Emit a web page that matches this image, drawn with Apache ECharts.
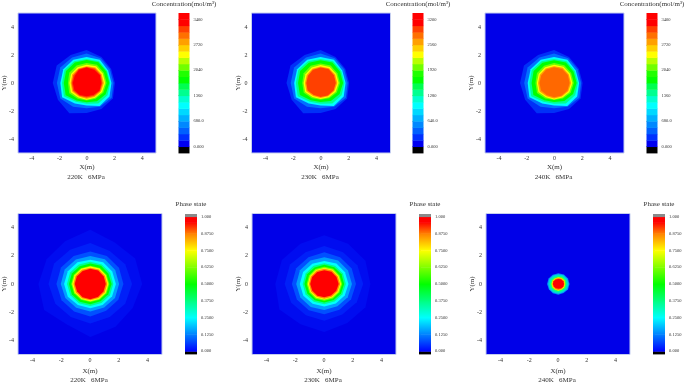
<!DOCTYPE html>
<html><head><meta charset="utf-8">
<style>html,body{margin:0;padding:0;background:#fff}#c{width:685px;height:385px;filter:blur(0.7px)}</style>
<script src="https://cdn.jsdelivr.net/npm/echarts@6/dist/echarts.min.js"></script>
</head><body><div id="c"></div>
<script>
// contour rows: [colour, r at 0deg, 30deg, ... 330deg] in metres
const conc220K = [
 ['#0030f8',2.05,2.05,2.15,2.35,2.30,2.50,2.45,2.40,2.50,2.15,2.15,2.20],
 ['#0070ff',1.95,1.95,2.05,2.10,2.10,2.20,2.15,2.20,1.95,1.80,1.95,2.10],
 ['#00ffff',1.80,1.80,1.92,1.85,1.92,1.95,1.90,2.05,1.70,1.60,1.90,1.92],
 ['#00ff90',1.72,1.72,1.80,1.72,1.80,1.85,1.78,1.90,1.55,1.48,1.70,1.75],
 ['#00ff00',1.65,1.65,1.72,1.65,1.70,1.72,1.65,1.75,1.45,1.38,1.50,1.60],
 ['#70ff00',1.45,1.45,1.50,1.42,1.45,1.45,1.35,1.45,1.30,1.25,1.30,1.40],
 ['#ffff00',1.35,1.35,1.38,1.30,1.30,1.30,1.25,1.32,1.20,1.20,1.22,1.30],
 ['#ffa000',1.25,1.25,1.28,1.20,1.20,1.20,1.15,1.20,1.12,1.12,1.15,1.20],
 ['#ff4000',1.15,1.18,1.20,1.15,1.15,1.10,1.08,1.12,1.05,1.03,1.07,1.13],
 ['#ff0000',1.07,1.12,1.10,1.10,1.10,1.00,1.00,1.02,1.00,0.95,1.00,1.08]
];
const conc230K = [
 ['#0030f8',2.05,2.05,2.15,2.35,2.30,2.50,2.45,2.40,2.50,2.15,2.15,2.20],
 ['#0070ff',1.95,1.95,2.05,2.10,2.10,2.20,2.15,2.20,1.95,1.80,1.95,2.10],
 ['#00ffff',1.80,1.80,1.92,1.85,1.92,1.95,1.90,2.05,1.70,1.60,1.90,1.92],
 ['#00ff90',1.72,1.72,1.80,1.72,1.80,1.85,1.78,1.90,1.55,1.48,1.70,1.75],
 ['#00ff00',1.62,1.62,1.70,1.62,1.68,1.70,1.62,1.72,1.42,1.35,1.48,1.58],
 ['#70ff00',1.40,1.40,1.45,1.40,1.42,1.40,1.32,1.40,1.25,1.20,1.25,1.35],
 ['#ffff00',1.30,1.30,1.32,1.28,1.28,1.25,1.22,1.28,1.15,1.15,1.18,1.25],
 ['#ffa000',1.20,1.20,1.22,1.18,1.18,1.15,1.12,1.18,1.08,1.07,1.10,1.15],
 ['#ff4000',1.10,1.12,1.15,1.10,1.10,1.05,1.03,1.08,1.00,1.00,1.03,1.08]
];
const conc240K = [
 ['#0030f8',2.05,2.05,2.15,2.35,2.30,2.50,2.45,2.40,2.50,2.15,2.15,2.20],
 ['#0070ff',1.95,1.95,2.05,2.10,2.10,2.20,2.15,2.20,1.95,1.80,1.95,2.10],
 ['#00ffff',1.80,1.80,1.92,1.85,1.92,1.95,1.90,2.05,1.70,1.60,1.90,1.92],
 ['#00ff90',1.72,1.72,1.80,1.72,1.80,1.85,1.78,1.90,1.55,1.48,1.70,1.75],
 ['#00ff00',1.62,1.62,1.70,1.62,1.68,1.70,1.62,1.72,1.42,1.35,1.48,1.58],
 ['#70ff00',1.42,1.42,1.47,1.42,1.42,1.42,1.34,1.42,1.27,1.22,1.27,1.38],
 ['#ffff00',1.32,1.32,1.35,1.30,1.30,1.28,1.24,1.30,1.18,1.17,1.20,1.27],
 ['#ffa000',1.22,1.22,1.25,1.20,1.20,1.18,1.15,1.20,1.10,1.10,1.12,1.18],
 ['#ff6800',1.12,1.14,1.16,1.12,1.12,1.07,1.05,1.08,1.02,1.02,1.05,1.10]
];
const phase220K = [
 ['#000cf0',3.60,3.60,3.40,3.85,3.50,3.50,3.60,3.70,3.30,3.75,3.50,3.40],
 ['#0020f8',2.90,2.80,2.70,2.90,2.80,2.90,2.90,2.80,2.70,2.80,2.70,2.80],
 ['#0050ff',2.30,2.30,2.30,2.30,2.30,2.35,2.35,2.30,2.25,2.30,2.20,2.25],
 ['#00a0ff',2.00,2.00,2.02,1.98,2.00,2.05,2.05,2.00,1.95,1.95,1.92,1.98],
 ['#00ffff',1.78,1.76,1.78,1.72,1.78,1.80,1.82,1.80,1.72,1.72,1.72,1.75],
 ['#00ff90',1.60,1.60,1.60,1.58,1.60,1.62,1.62,1.60,1.58,1.56,1.56,1.58],
 ['#00ff00',1.48,1.46,1.50,1.46,1.46,1.48,1.48,1.48,1.45,1.44,1.42,1.45],
 ['#80ff00',1.32,1.30,1.32,1.30,1.30,1.32,1.32,1.30,1.30,1.28,1.28,1.30],
 ['#ffff00',1.25,1.24,1.26,1.24,1.24,1.25,1.25,1.24,1.22,1.22,1.22,1.24],
 ['#ff9000',1.18,1.17,1.18,1.16,1.16,1.18,1.17,1.16,1.16,1.16,1.15,1.16],
 ['#ff0000',1.08,1.08,1.10,1.08,1.06,1.08,1.08,1.06,1.08,1.08,1.06,1.06]
];
const phase230K = [
 ['#000cf0',3.20,3.30,3.30,3.45,3.30,3.40,3.40,3.60,3.30,3.40,3.20,3.30],
 ['#0020f8',2.70,2.65,2.60,2.70,2.60,2.75,2.75,2.65,2.55,2.60,2.50,2.60],
 ['#0050ff',2.20,2.20,2.20,2.25,2.20,2.25,2.25,2.20,2.15,2.15,2.10,2.15],
 ['#00a0ff',1.92,1.90,1.92,1.90,1.92,1.95,1.95,1.92,1.88,1.85,1.82,1.88],
 ['#00ffff',1.68,1.66,1.68,1.64,1.66,1.70,1.70,1.68,1.62,1.60,1.60,1.64],
 ['#00ff90',1.50,1.50,1.50,1.48,1.50,1.50,1.50,1.50,1.46,1.44,1.44,1.46],
 ['#00ff00',1.38,1.38,1.38,1.36,1.36,1.38,1.38,1.36,1.34,1.32,1.32,1.34],
 ['#80ff00',1.24,1.22,1.24,1.22,1.22,1.22,1.22,1.20,1.20,1.18,1.18,1.20],
 ['#ffff00',1.16,1.15,1.16,1.14,1.14,1.14,1.14,1.12,1.12,1.10,1.10,1.12],
 ['#ff9000',1.10,1.08,1.10,1.08,1.08,1.08,1.06,1.06,1.05,1.04,1.04,1.05],
 ['#ff0000',1.00,0.98,1.00,0.98,0.98,0.98,0.98,0.96,0.96,0.94,0.94,0.96]
];
const phase240K = [
 ['#0088ff',0.78,0.78,0.78,0.76,0.76,0.78,0.78,0.76,0.76,0.76,0.74,0.78],
 ['#00d8d8',0.72,0.72,0.72,0.70,0.70,0.72,0.70,0.70,0.70,0.70,0.68,0.72],
 ['#00ff90',0.62,0.62,0.62,0.60,0.60,0.62,0.60,0.60,0.60,0.60,0.58,0.62],
 ['#80ff00',0.52,0.54,0.54,0.50,0.50,0.50,0.50,0.50,0.50,0.50,0.50,0.52],
 ['#ffff00',0.47,0.48,0.48,0.46,0.46,0.45,0.46,0.45,0.46,0.46,0.46,0.47],
 ['#ff9000',0.44,0.45,0.45,0.42,0.42,0.42,0.42,0.42,0.42,0.43,0.43,0.44],
 ['#ff0000',0.40,0.40,0.38,0.35,0.36,0.38,0.38,0.36,0.34,0.34,0.36,0.40]
];
// colour-bar cells
const concColors = ['#000000','#0000f0','#0030ff','#0060ff','#0088ff','#00b0ff','#00d8ff','#00ffff','#00ffd0','#00ff90','#00ff50','#00ff00','#20ff00','#70ff00','#b8ff00','#ffff00','#ffd000','#ffa000','#ff7000','#ff4000','#ff0000','#ff0000'];
const conc3400Edges = [-170,0,170,340,510,680,850,1020,1190,1360,1530,1700,1870,2040,2210,2380,2550,2720,2890,3060,3230,3400,3570];
const conc3200Edges = [-160,0,160,320,480,640,800,960,1120,1280,1440,1600,1760,1920,2080,2240,2400,2560,2720,2880,3040,3200,3360];
const phaseEdges = [-0.02,0,0.125,0.25,0.375,0.5,0.625,0.75,0.875,0.96,1,1.02];
const phaseColorsLow  = ['#000000','#0000ff','#0080ff','#00ffff','#00ff80','#00ff00','#80ff00','#ffff00','#ff8000','#ff0000','#8a8a8a'];
const phaseColorsHigh = ['#000000','#0080ff','#00ffff','#00ff80','#00ff00','#80ff00','#ffff00','#ff8000','#ff0000','#ff0000','#8a8a8a'];
// tick labels
const axisTicks = [-4,-2,0,2,4];
const conc3400Ticks = [0,680,1360,2040,2720,3400];
const conc3200Ticks = [0,640,1280,1920,2560,3200];
const phaseTicks = [0,0.125,0.25,0.375,0.5,0.625,0.75,0.875,1];
const captions = ['220K   6MPa','230K   6MPa','240K   6MPa','220K   6MPa','230K   6MPa','240K   6MPa'];
const concTitle = 'Concentration(mol/m\u00B3)';
const phaseTitle = 'Phase state';

const BG = '#0000e8', FONT = '"Liberation Serif",serif', TXT = '#333';
const layouts = [
 {l:18,t:13,w:138,h:140,bl:178.5,bw:11,bt:13,bh:140,cap:174,xg:2,name:11},
 {l:251.5,t:13,w:139,h:140,bl:412.5,bw:11,bt:13,bh:140,cap:174,xg:2,name:11},
 {l:485,t:13,w:139,h:140,bl:646.5,bw:11,bt:13,bh:140,cap:174,xg:2,name:11},
 {l:18,t:213.5,w:144,h:141,bl:185,bw:12,bt:214,bh:140,cap:377,xg:3,name:13.5},
 {l:252,t:213.5,w:144,h:141,bl:419,bw:12,bt:214,bh:140,cap:377,xg:3,name:13.5},
 {l:486,t:213.5,w:144,h:141,bl:653,bw:12,bt:214,bh:140,cap:377,xg:3,name:13.5}
];
const panels = [
 {rows:conc220K,edges:conc3400Edges,ticks:conc3400Ticks,title:concTitle,kind:'c',cx:-0.03,cy:0},
 {rows:conc230K,edges:conc3200Edges,ticks:conc3200Ticks,title:concTitle,kind:'c',cx:-0.03,cy:0},
 {rows:conc240K,edges:conc3400Edges,ticks:conc3400Ticks,title:concTitle,kind:'c',cx:-0.03,cy:0},
 {rows:phase220K,edges:phaseEdges,ticks:phaseTicks,title:phaseTitle,kind:'p',cx:0.02,cy:0},
 {rows:phase230K,edges:phaseEdges,ticks:phaseTicks,title:phaseTitle,kind:'p',cx:0.02,cy:0},
 {rows:phase240K,edges:phaseEdges,ticks:phaseTicks,title:phaseTitle,kind:'p',cx:0.02,cy:0}
];
function fmt(v,kind){
  if(v===0) return '0.000';
  if(kind==='p') return v===1?'1.000':v.toFixed(4);
  return v<1000?v.toFixed(1):String(v);
}
const grid=[],xAxis=[],yAxis=[],series=[],title=[];
panels.forEach((p,i)=>{
  const L=layouts[i], g=grid.length;
  grid.push({left:L.l,top:L.t,width:L.w,height:L.h,show:true,backgroundColor:BG,borderColor:'#c4cdf0',borderWidth:1,z:0});
  const lab={fontFamily:FONT,fontSize:6,color:TXT};
  const tk={show:false};
  xAxis.push({gridIndex:g,type:'value',min:-5,max:5,axisLine:{show:false},axisTick:tk,splitLine:{show:false},
    axisLabel:Object.assign({customValues:axisTicks,margin:L.xg},lab),
    name:'X(m)',nameLocation:'middle',nameGap:L.name,nameMoveOverlap:false,nameTextStyle:{fontFamily:FONT,fontSize:7,color:TXT}});
  yAxis.push({gridIndex:g,type:'value',min:-5,max:5,axisLine:{show:false},axisTick:tk,splitLine:{show:false},
    axisLabel:Object.assign({customValues:axisTicks,margin:4},lab),
    name:'Y(m)',nameLocation:'middle',nameGap:10,nameMoveOverlap:false,nameTextStyle:{fontFamily:FONT,fontSize:7,color:TXT}});
  series.push({type:'custom',xAxisIndex:g,yAxisIndex:g,coordinateSystem:'cartesian2d',silent:true,animation:false,clip:true,
    data:p.rows.map(r=>r.slice(1)),
    renderItem:(params,api)=>{
      const pts=[];
      for(let k=0;k<12;k++){
        const a=k*Math.PI/6, rr=api.value(k);
        pts.push(api.coord([p.cx+rr*Math.cos(a),p.cy+rr*Math.sin(a)]));
      }
      return {type:'polygon',shape:{points:pts},style:{fill:p.rows[params.dataIndex][0]}};
    }});
  // colour bar
  const bg=grid.length, e=p.edges;
  grid.push({left:L.bl,top:L.bt,width:L.bw,height:L.bh});
  xAxis.push({gridIndex:bg,type:'value',min:0,max:1,show:false});
  yAxis.push({gridIndex:bg,type:'value',min:e[0],max:e[e.length-1],position:'right',
    axisLine:{show:false},splitLine:{show:false},
    axisTick:{show:true,customValues:p.ticks,length:2,inside:false,lineStyle:{color:'#555',width:0.6}},
    axisLabel:{customValues:p.ticks,fontFamily:FONT,fontSize:4.5,color:TXT,margin:4,formatter:v=>fmt(v,p.kind)}});
  const cells=[];for(let k=0;k<e.length-1;k++)cells.push([e[k],e[k+1]]);
  series.push({type:'custom',xAxisIndex:bg,yAxisIndex:bg,coordinateSystem:'cartesian2d',silent:true,animation:false,
    data:cells,
    renderItem:(params,api)=>{
      const a=api.coord([0,api.value(0)]), b=api.coord([1,api.value(1)]);
      const k=params.dataIndex;
      const fill=p.kind==='c'?concColors[k]:new echarts.graphic.LinearGradient(0,1,0,0,[{offset:0,color:phaseColorsLow[k]},{offset:1,color:phaseColorsHigh[k]}]);
      return {type:'rect',shape:{x:a[0],y:b[1],width:b[0]-a[0],height:a[1]-b[1]+0.4},style:{fill}};
    }});
  title.push({text:p.title,left:L.bl+L.bw/2,top:p.kind==='c'?1:201,padding:0,
    textAlign:'center',textStyle:{fontFamily:FONT,fontSize:7,fontWeight:'normal',color:TXT}});
  title.push({text:captions[i],left:L.l+L.w/2-1,top:L.cap,padding:0,textAlign:'center',
    textStyle:{fontFamily:FONT,fontSize:7,fontWeight:'normal',color:TXT}});
});
const chart=echarts.init(document.getElementById('c'),null,{renderer:'canvas'});
chart.setOption({animation:false,backgroundColor:'#fff',title,grid,xAxis,yAxis,series});
</script></body></html>
